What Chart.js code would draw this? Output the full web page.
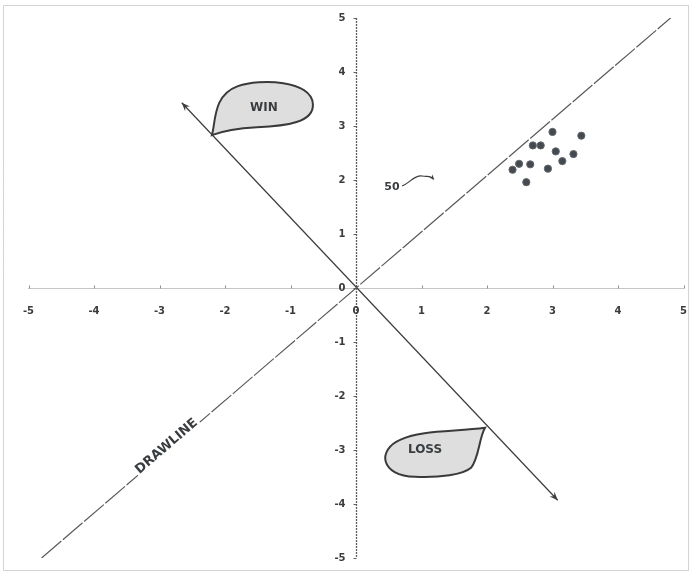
<!DOCTYPE html>
<html>
<head>
<meta charset="utf-8">
<script src="https://cdn.jsdelivr.net/npm/chart.js@4.4.1/dist/chart.umd.min.js"></script>
<style>
  html, body { margin: 0; padding: 0; background: #fff; }
  canvas { display: block; }
</style>
</head>
<body>
<canvas id="chart" width="692" height="573"></canvas>
<script>
// Axis ticks shared by both axes
const tickValues = [-5, -4, -3, -2, -1, 0, 1, 2, 3, 4, 5];

// Game results cluster
const gameX = [3.00, 3.44, 2.70, 2.82, 3.05, 3.32, 3.15, 2.49, 2.66, 2.39, 2.93, 2.60];
const gameY = [2.89, 2.82, 2.64, 2.64, 2.53, 2.48, 2.35, 2.30, 2.29, 2.19, 2.21, 1.96];

// Draw line (equal strength) and the win/loss direction
const drawLineX = [-4.80, 4.85];
const drawLineY = [-5.00, 5.05];
const outcomeX = [-2.66, 3.08];
const outcomeY = [3.43, -3.93];

// Callouts sitting on the win/loss direction
const calloutLabels = ['WIN', 'LOSS'];
const calloutTipX = [-2.20, 1.97];
const calloutTipY = [2.83, -2.59];

// Count marker next to the cluster
const countLabel = '50';
const countAt = [0.55, 1.87];
const countArrowTo = [1.18, 2.02];

// Label laid along the draw line
const drawLineLabel = 'DRAWLINE';
const drawLineLabelAt = [-2.87, -2.96];

const toPoints = (xs, ys) => xs.map((x, i) => ({ x, y: ys[i] }));

const TEXT = '#3a3d40';
const BOLD = 'bold 12px "DejaVu Sans", sans-serif';
const TICK_FONT = 'bold 10px "DejaVu Sans", sans-serif';

function calloutPath(ctx, kind, tx, ty) {
  ctx.beginPath();
  ctx.moveTo(tx, ty);
  if (kind === 'WIN') {
    ctx.bezierCurveTo(tx + 4, ty - 14, tx + 1, ty - 40, tx + 26, ty - 49);
    ctx.bezierCurveTo(tx + 48, ty - 57, tx + 100, ty - 55, tx + 101, ty - 31);
    ctx.bezierCurveTo(tx + 102, ty - 13, tx + 75, ty - 9, tx + 45, ty - 8);
    ctx.bezierCurveTo(tx + 25, ty - 7, tx + 10, ty - 4, tx, ty);
  } else {
    ctx.bezierCurveTo(tx - 30, ty + 4, tx - 65, ty + 2, tx - 85, ty + 12);
    ctx.bezierCurveTo(tx - 108, ty + 22, tx - 105, ty + 48, tx - 70, ty + 49);
    ctx.bezierCurveTo(tx - 45, ty + 50, tx - 22, ty + 47, tx - 14, ty + 40);
    ctx.bezierCurveTo(tx - 6, ty + 30, tx - 6, ty + 10, tx, ty);
  }
  ctx.closePath();
}

function arrowHead(ctx, fromX, fromY, toX, toY, size) {
  const a = Math.atan2(toY - fromY, toX - fromX);
  ctx.beginPath();
  ctx.moveTo(toX, toY);
  ctx.lineTo(toX - size * Math.cos(a - 0.38), toY - size * Math.sin(a - 0.38));
  ctx.lineTo(toX - size * 0.6 * Math.cos(a), toY - size * 0.6 * Math.sin(a));
  ctx.lineTo(toX - size * Math.cos(a + 0.38), toY - size * Math.sin(a + 0.38));
  ctx.closePath();
  ctx.fill();
}

// Both axes cross at the origin, with labels beside them
const crossAxes = {
  id: 'crossAxes',
  beforeDraw(chart) {
    const ctx = chart.ctx;
    ctx.save();
    ctx.fillStyle = '#ffffff';
    ctx.fillRect(0, 0, chart.width, chart.height);
    // dotted frame around the figure
    ctx.strokeStyle = '#a8a8a8';
    ctx.lineWidth = 1;
    ctx.setLineDash([1, 1]);
    ctx.strokeRect(3.5, 5.5, 685, 565);
    ctx.restore();
  },
  beforeDatasetsDraw(chart) {
    const ctx = chart.ctx;
    const sx = chart.scales.x, sy = chart.scales.y;
    const ox = Math.round(sx.getPixelForValue(0)) + 0.5;
    const oy = Math.round(sy.getPixelForValue(0)) + 0.5;
    ctx.save();
    // horizontal axis: light dotted
    ctx.strokeStyle = '#8f8f8f';
    ctx.lineWidth = 1;
    ctx.setLineDash([1, 1]);
    ctx.beginPath();
    ctx.moveTo(sx.getPixelForValue(tickValues[0]), oy);
    ctx.lineTo(sx.getPixelForValue(tickValues[tickValues.length - 1]), oy);
    ctx.stroke();
    ctx.setLineDash([]);
    ctx.beginPath();
    tickValues.forEach(v => {
      const x = Math.round(sx.getPixelForValue(v)) + 0.5;
      ctx.moveTo(x, oy - 3);
      ctx.lineTo(x, oy);
    });
    ctx.stroke();
    // vertical axis: darker grainy line
    ctx.strokeStyle = '#5e5e5e';
    ctx.lineWidth = 1.3;
    ctx.setLineDash([2, 1]);
    ctx.beginPath();
    ctx.moveTo(ox, sy.getPixelForValue(tickValues[tickValues.length - 1]));
    ctx.lineTo(ox, sy.getPixelForValue(tickValues[0]));
    ctx.stroke();
    ctx.setLineDash([]);
    ctx.lineWidth = 1;
    ctx.beginPath();
    tickValues.forEach(v => {
      const y = Math.round(sy.getPixelForValue(v)) + 0.5;
      ctx.moveTo(ox - 3, y);
      ctx.lineTo(ox, y);
    });
    ctx.stroke();
    // tick labels
    ctx.fillStyle = TEXT;
    ctx.font = TICK_FONT;
    ctx.textBaseline = 'middle';
    ctx.textAlign = 'center';
    tickValues.forEach(v => ctx.fillText(String(v), sx.getPixelForValue(v), oy + 23));
    ctx.textAlign = 'right';
    tickValues.forEach(v => ctx.fillText(String(v), ox - 11, sy.getPixelForValue(v)));
    ctx.restore();
  }
};

const decorations = {
  id: 'decorations',
  afterDatasetsDraw(chart) {
    const ctx = chart.ctx;
    const sx = chart.scales.x, sy = chart.scales.y;
    const px = v => sx.getPixelForValue(v);
    const py = v => sy.getPixelForValue(v);
    ctx.save();

    // arrowheads on both ends of the win/loss direction
    ctx.fillStyle = '#3c3c3c';
    const x0 = px(outcomeX[0]), y0 = py(outcomeY[0]);
    const x1 = px(outcomeX[1]), y1 = py(outcomeY[1]);
    arrowHead(ctx, x1, y1, x0, y0, 9);
    arrowHead(ctx, x0, y0, x1, y1, 9);

    // WIN / LOSS callouts
    calloutLabels.forEach((label, i) => {
      const tx = px(calloutTipX[i]), ty = py(calloutTipY[i]);
      calloutPath(ctx, label, tx, ty);
      ctx.fillStyle = '#dedede';
      ctx.fill();
      ctx.strokeStyle = '#3a3a3a';
      ctx.lineWidth = 2;
      ctx.stroke();
      ctx.fillStyle = TEXT;
      ctx.font = BOLD;
      ctx.textAlign = 'center';
      ctx.textBaseline = 'middle';
      if (label === 'WIN') ctx.fillText(label, tx + 52, ty - 27);
      else ctx.fillText(label, tx - 60, ty + 22);
    });

    // count marker with a small wavy arrow
    const cx = px(countAt[0]), cy = py(countAt[1]);
    ctx.font = 'bold 11px "DejaVu Sans", sans-serif';
    ctx.fillStyle = TEXT;
    ctx.textAlign = 'center';
    ctx.textBaseline = 'middle';
    ctx.fillText(countLabel, cx, cy);
    const ax = px(countArrowTo[0]), ay = py(countArrowTo[1]);
    ctx.strokeStyle = '#3c3c3c';
    ctx.lineWidth = 1.2;
    ctx.beginPath();
    ctx.moveTo(cx + 10, cy - 1);
    ctx.bezierCurveTo(cx + 18, cy - 4, cx + 22, cy - 12, cx + 30, cy - 11);
    ctx.bezierCurveTo(cx + 36, cy - 10, ax - 3, ay - 4, ax, ay);
    ctx.stroke();
    ctx.fillStyle = '#3c3c3c';
    arrowHead(ctx, ax - 5, ay - 6, ax + 1, ay + 1, 6);

    // label along the draw line
    const lx = px(drawLineLabelAt[0]), ly = py(drawLineLabelAt[1]);
    const ang = Math.atan2(py(drawLineY[1]) - py(drawLineY[0]), px(drawLineX[1]) - px(drawLineX[0]));
    ctx.translate(lx, ly);
    ctx.rotate(ang);
    ctx.font = 'bold 13px "DejaVu Sans", sans-serif';
    const w = ctx.measureText(drawLineLabel).width;
    ctx.fillStyle = '#ffffff';
    ctx.fillRect(-w / 2 - 2, -6, w + 4, 12);
    ctx.fillStyle = TEXT;
    ctx.textAlign = 'center';
    ctx.textBaseline = 'middle';
    ctx.fillText(drawLineLabel, 0, -2);
    ctx.restore();
  }
};

new Chart(document.getElementById('chart'), {
  type: 'scatter',
  data: {
    datasets: [
      {
        label: 'Draw line',
        data: toPoints(drawLineX, drawLineY),
        showLine: true,
        borderColor: '#5a5a5a',
        borderWidth: 1.2,
        borderDash: [26, 2],
        pointRadius: 0
      },
      {
        label: 'Win / Loss',
        data: toPoints(outcomeX, outcomeY),
        showLine: true,
        borderColor: '#3c3c3c',
        borderWidth: 1.2,
        pointRadius: 0
      },
      {
        label: 'Games',
        data: toPoints(gameX, gameY),
        pointRadius: 3.6,
        pointBackgroundColor: '#454a50',
        pointBorderColor: '#62676d',
        pointBorderWidth: 1
      }
    ]
  },
  options: {
    responsive: false,
    devicePixelRatio: 1,
    animation: false,
    layout: { padding: { left: 28.5, right: 8.5, top: 18, bottom: 15 } },
    plugins: { legend: { display: false }, tooltip: { enabled: false } },
    scales: {
      x: { type: 'linear', min: -5, max: 5, display: false },
      y: { type: 'linear', min: -5, max: 5, display: false }
    }
  },
  plugins: [crossAxes, decorations]
});
</script>
</body>
</html>
